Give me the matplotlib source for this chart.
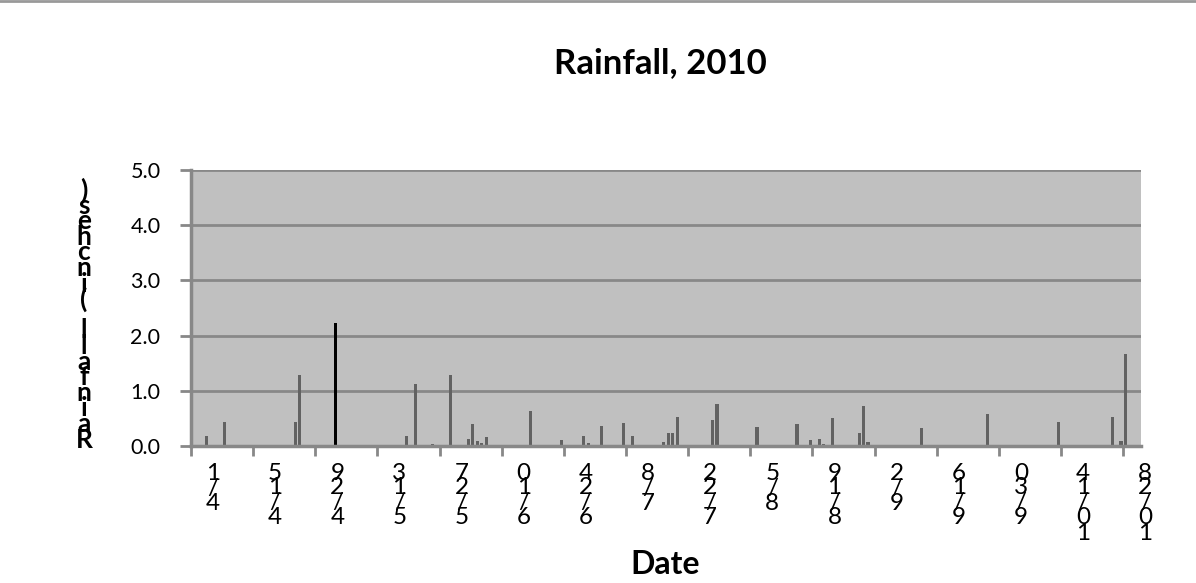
import matplotlib
matplotlib.use("Agg")
import matplotlib.pyplot as plt
import matplotlib.dates as mdates
import matplotlib.transforms as mtransforms
import pandas as pd

# daily rainfall, days without rain left out
rain_dates = ["2010-04-04", "2010-04-08", "2010-04-24", "2010-04-25", "2010-05-03",
              "2010-05-19", "2010-05-21", "2010-05-22", "2010-05-25", "2010-05-29",
              "2010-06-02", "2010-06-03", "2010-06-04", "2010-06-05", "2010-06-06",
              "2010-06-16", "2010-06-20", "2010-06-23", "2010-06-28", "2010-06-29",
              "2010-07-02", "2010-07-07", "2010-07-09", "2010-07-16", "2010-07-17",
              "2010-07-18", "2010-07-19", "2010-07-27", "2010-07-28", "2010-08-06",
              "2010-08-10", "2010-08-15", "2010-08-18", "2010-08-20", "2010-08-21",
              "2010-08-23", "2010-08-29", "2010-08-30", "2010-08-31", "2010-09-12",
              "2010-09-27", "2010-10-13", "2010-10-25", "2010-10-27", "2010-10-28"]
rain_inches = [0.18, 0.44, 0.44, 1.28, 2.22,
               0.18, 1.13, 0.02, 0.03, 1.29,
               0.13, 0.39, 0.09, 0.06, 0.16,
               0.63, 0.02, 0.10, 0.19, 0.06,
               0.36, 0.41, 0.19, 0.07, 0.23,
               0.24, 0.52, 0.48, 0.76, 0.34,
               0.01, 0.39, 0.11, 0.13, 0.04,
               0.50, 0.24, 0.72, 0.07, 0.33,
               0.58, 0.43, 0.52, 0.09, 1.66]

tick_dates = ["2010-04-01", "2010-04-15", "2010-04-29", "2010-05-13", "2010-05-27",
              "2010-06-10", "2010-06-24", "2010-07-08", "2010-07-22", "2010-08-05",
              "2010-08-19", "2010-09-02", "2010-09-16", "2010-09-30", "2010-10-14",
              "2010-10-28"]
tick_labels = ["4/1", "4/15", "4/29", "5/13", "5/27", "6/10", "6/24", "7/8", "7/22",
               "8/5", "8/19", "9/2", "9/16", "9/30", "10/14", "10/28"]
y_ticks = [0.0, 1.0, 2.0, 3.0, 4.0, 5.0]

plt.rcParams['font.family'] = ['Lato', 'DejaVu Sans']

W, H = 1196, 583
fig = plt.figure(figsize=(W / 100, H / 100), dpi=100)
ax = fig.add_axes([191 / W, 1 - 446 / H, 950 / W, 276 / H])

grid_col = '#888888'
ax.set_facecolor('#c0c0c0')

x = mdates.date2num(pd.to_datetime(rain_dates)) + 0.5
peak = max(rain_inches)
colors = ['black' if v == peak else '#626262' for v in rain_inches]
ax.bar(x, rain_inches, width=0.7, color=colors, zorder=3)

ax.set_xlim(mdates.date2num(pd.Timestamp("2010-04-01")),
            mdates.date2num(pd.Timestamp("2010-11-01")))
ax.set_ylim(0, 5)

ax.set_yticks(y_ticks)
ax.set_yticklabels([f"{v:.1f}" for v in y_ticks], fontsize=15.5)
ax.yaxis.grid(True, color=grid_col, lw=2, zorder=1)
ax.set_axisbelow(True)

ax.set_xticks(mdates.date2num(pd.to_datetime(tick_dates)))
ax.set_xticklabels([])
ax.tick_params(axis='y', length=8, width=2, color=grid_col, pad=14)
ax.tick_params(axis='x', length=7, width=2, color=grid_col)

for side in ['top', 'right']:
    ax.spines[side].set_visible(False)
for side in ['left', 'bottom']:
    ax.spines[side].set_color(grid_col)
    ax.spines[side].set_linewidth(2.5)
    ax.spines[side].set_zorder(4)


def stacked(text, x, y, transform, step, **kw):
    # characters written bottom-up, one per line
    for i, ch in enumerate(reversed(text)):
        off = mtransforms.ScaledTranslation(0, -i * step / 100, fig.dpi_scale_trans)
        fig.text(x, y, ch, transform=transform + off, ha='center', va='center', **kw)


xt = mtransforms.blended_transform_factory(ax.transData, ax.transAxes)
shift = mtransforms.ScaledTranslation(22 / 100, -27 / 100, fig.dpi_scale_trans)
for d, lab in zip(tick_dates, tick_labels):
    stacked(lab, mdates.date2num(pd.Timestamp(d)), 0, xt + shift, 15, fontsize=17.5)

stacked("Rainfall (inches)", 84 / W, 1 - 190 / H, fig.transFigure, 15.6,
        fontsize=19, fontweight='bold')

fig.text(660 / W, 1 - 63 / H, "Rainfall, 2010", ha='center', va='center',
         fontsize=25, fontweight='bold')
fig.text(665 / W, 1 - 564 / H, "Date", ha='center', va='center',
         fontsize=23, fontweight='bold')

fig.add_artist(plt.Line2D([0, 1], [1 - 1 / H, 1 - 1 / H], transform=fig.transFigure,
                          color='#999999', lw=2))

fig.savefig("out.png", dpi=100)
